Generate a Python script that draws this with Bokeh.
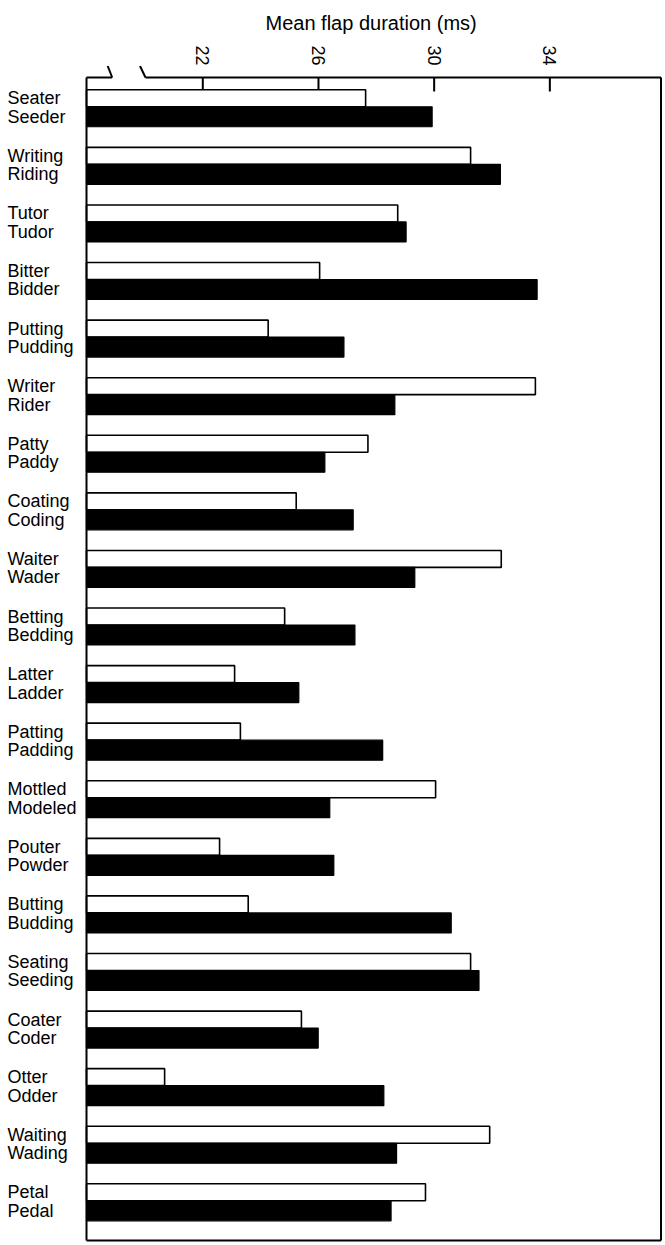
import numpy as np
from bokeh.plotting import figure
from bokeh.models import ColumnDataSource, FixedTicker, Range1d
from bokeh.embed import file_html
from bokeh.resources import INLINE
from bokeh.core.properties import value

# ---------------- data ----------------
t_words = ["Seater", "Writing", "Tutor", "Bitter", "Putting", "Writer", "Patty",
           "Coating", "Waiter", "Betting", "Latter", "Patting", "Mottled", "Pouter",
           "Butting", "Seating", "Coater", "Otter", "Waiting", "Petal"]
d_words = ["Seeder", "Riding", "Tudor", "Bidder", "Pudding", "Rider", "Paddy",
           "Coding", "Wader", "Bedding", "Ladder", "Padding", "Modeled", "Powder",
           "Budding", "Seeding", "Coder", "Odder", "Wading", "Pedal"]
t_ms = [27.63, 31.26, 28.74, 26.04, 24.26, 33.50, 27.71, 25.23, 32.32, 24.83,
        23.10, 23.30, 30.05, 22.58, 23.57, 31.26, 25.41, 20.68, 31.92, 29.70]
d_ms = [29.93, 32.29, 29.03, 33.56, 26.88, 28.64, 26.22, 27.20, 29.33, 27.26,
        25.32, 28.22, 26.39, 26.53, 30.59, 31.55, 25.99, 28.26, 28.70, 28.51]
ticks = [22, 26, 30, 34]
axis_title = "Mean flap duration  (ms)"

# ---------------- geometry (page pixels -> data) ----------------
OFF = 0  # observed offset of the canvas on the page
PX_PER_MS = 28.92
X22_PX = 202.3
FRAME_LEFT_PX, FRAME_RIGHT_PX = 0, 663
PITCH = 57.63
Y0_PX = 88.3
FRAME_TOP_PX, FRAME_BOT_PX = 64, 1243

def xpx(px):
    return 22 + (px - X22_PX) / PX_PER_MS

def ypx(py):
    return -(py - Y0_PX) / PITCH

W, H = 665, 1245
x_range = Range1d(xpx(FRAME_LEFT_PX), xpx(FRAME_RIGHT_PX))
y_range = Range1d(ypx(FRAME_BOT_PX), ypx(FRAME_TOP_PX))

FONT = "Liberation Sans"

p = figure(width=W, height=H, x_range=x_range, y_range=y_range,
           output_backend="svg", toolbar_location=None,
           x_axis_location="above", y_axis_location=None,
           min_border_left=FRAME_LEFT_PX - OFF, min_border_right=W - (FRAME_RIGHT_PX - OFF),
           min_border_top=FRAME_TOP_PX - OFF, min_border_bottom=H - (FRAME_BOT_PX - OFF))
p.xgrid.visible = False
p.ygrid.visible = False
p.outline_line_color = None
p.background_fill_color = "white"

p.title.text = axis_title
p.title.align = "left"
p.title.offset = 265 - FRAME_LEFT_PX
p.title.text_font = FONT
p.title.text_font_size = "20px"
p.title.text_font_style = "normal"
p.title.text_color = "black"
p.title.standoff = 18

ax = p.xaxis[0]
ax.ticker = FixedTicker(ticks=ticks)
ax.major_label_orientation = -np.pi / 2
ax.axis_line_color = None
ax.major_tick_line_color = None
ax.minor_tick_line_color = None
ax.major_tick_out = 0
ax.major_tick_in = 0
ax.major_label_standoff = 0
ax.major_label_text_font = FONT
ax.major_label_text_font_size = "18px"
ax.major_label_text_color = "black"

# frame geometry
xL = xpx(86)
xR = xpx(660.5)
y_top = ypx(76)
y_bot = ypx(1240)
n = len(t_words)
h_w = 17 / PITCH
h_d = 20 / PITCH
yw = [-i - h_w / 2 for i in range(n)]
yd = [-i - h_w - h_d / 2 for i in range(n)]

# tick marks (inside, pointing down from the top line)
p.segment(x0=ticks, y0=[y_top] * len(ticks), x1=ticks, y1=[ypx(90)] * len(ticks),
          line_color="black", line_width=2)

# bars
src = ColumnDataSource(dict(yw=yw, yd=yd, t=t_ms, d=d_ms))
p.hbar(y="yw", left=xL, right="t", height=h_w, source=src,
       fill_color="white", line_color="black", line_width=1.6)
p.hbar(y="yd", left=xL, right="d", height=h_d, source=src,
       fill_color="black", line_color="black", line_width=1.2)

# frame with axis break
p.line(x=[xL, xL], y=[y_top, y_bot], line_color="black", line_width=2)
p.line(x=[xL, xR], y=[y_bot, y_bot], line_color="black", line_width=2)
p.line(x=[xR, xR], y=[y_top, y_bot], line_color="black", line_width=2)
p.line(x=[xL, xpx(111.7)], y=[y_top, y_top], line_color="black", line_width=2)
p.line(x=[xpx(111.7), xpx(107.2)], y=[y_top, ypx(64.5)], line_color="black", line_width=2)
p.line(x=[xpx(139.5), xpx(145)], y=[ypx(64.5), y_top], line_color="black", line_width=2)
p.line(x=[xpx(145), xR], y=[y_top, y_top], line_color="black", line_width=2)

# word labels
lab_x = xpx(7)
lsrc = ColumnDataSource(dict(x=[lab_x] * (2 * n), y=yw + yd, text=t_words + d_words))
p.text(x="x", y="y", text="text", source=lsrc, text_align="left",
       text_baseline="middle", text_font=value(FONT),
       text_font_size="18px", text_color="black")

open("out.html", "w").write(file_html(p, INLINE))
